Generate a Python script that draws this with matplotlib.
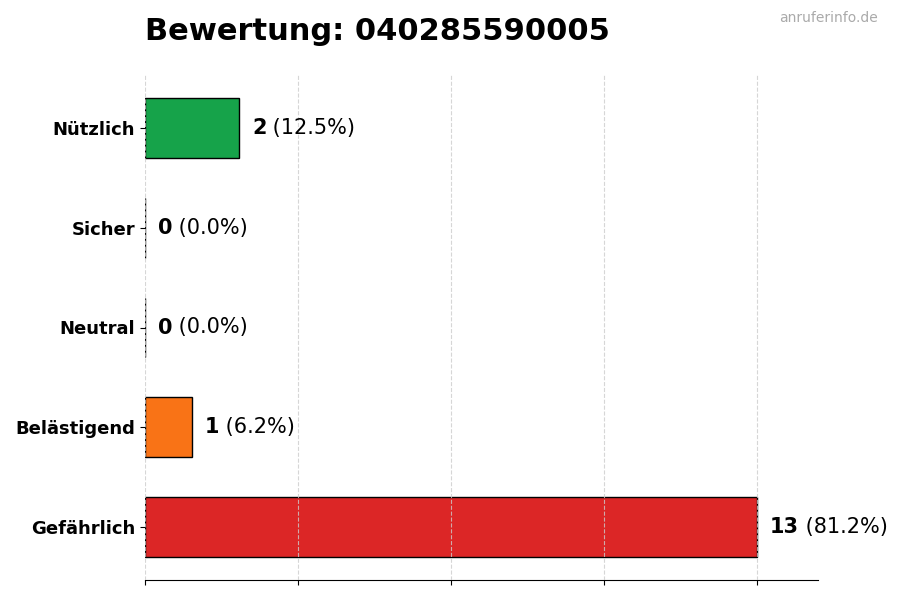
import matplotlib
matplotlib.use("Agg")
import matplotlib.pyplot as plt
import numpy as np

categories = ["Gefährlich", "Belästigend", "Neutral", "Sicher", "Nützlich"]
counts = [13, 1, 0, 0, 2]
colors = ["#dc2626", "#f97316", "#9ca3af", "#3b82f6", "#16a34a"]
title = "Bewertung: 040285590005"
watermark = "anruferinfo.de"

total = sum(counts)
fig = plt.figure(figsize=(9, 6), dpi=100)
ax = fig.add_axes([145/900, 1-580/600, (818-145)/900, (580-75)/600])

y = np.arange(len(categories))
ax.barh(y, counts, height=0.6, color=colors, edgecolor="black", linewidth=1)
ax.set_yticks(y)
ax.set_yticklabels(categories, fontsize=13, fontweight="bold")
mx = max(counts)
ax.set_xlim(0, mx * 1.1)
ax.set_xticks(np.linspace(0, mx, 5))
ax.set_xticklabels([])
ax.grid(axis="x", linestyle="--", color="#cccccc", linewidth=0.8, alpha=0.8)
ax.set_axisbelow(False)
for s in ["top", "right", "left"]:
    ax.spines[s].set_visible(False)

off = mx * 0.021
for yi, c in zip(y, counts):
    pct = c / total * 100
    t = ax.text(c + off, yi, f"{c}", fontsize=15, fontweight="bold", va="center", ha="left")
    ax.annotate(f" ({pct:.1f}%)", xy=(1, 0.5), xycoords=t, va="center", ha="left", fontsize=15)

fig.text(145/900, 1-40/600, title, fontsize=22, fontweight="bold", va="baseline", ha="left")
fig.text(878/900, 1-22/600, watermark, fontsize=10, color="#aaaaaa", va="baseline", ha="right")

fig.savefig("out.png", dpi=100)
